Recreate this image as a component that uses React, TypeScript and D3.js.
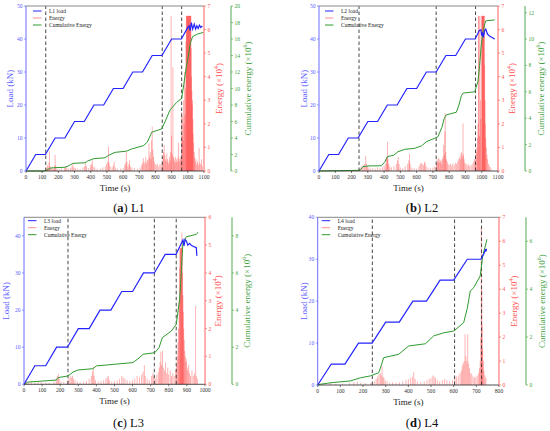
import React from "react";
import * as d3 from "d3";

type P = [number, number];

// ---------- DATA ----------
const timeTicksL1 = [0, 100, 200, 300, 400, 500, 600, 700, 800, 900, 1000, 1100];
const timeTicksL3 = [0, 100, 200, 300, 400, 500, 600, 700, 800, 900, 1000];
const timeTicksL4 = [0, 100, 200, 300, 400, 500, 600, 700, 800];
const loadTicks50 = [0, 10, 20, 30, 40, 50];
const loadTicks40 = [0, 10, 20, 30, 40];
const energyTicks7 = [0, 1, 2, 3, 4, 5, 6, 7];
const energyTicks6 = [0, 1, 2, 3, 4, 5, 6];
const cumTicksL1 = [0, 2, 4, 6, 8, 10, 12, 14, 16, 18, 20];
const cumTicksL2 = [0, 2, 4, 6, 8, 10, 12];
const cumTicksL3 = [0, 2, 4, 6, 8];
const cumTicksL4 = [0, 2, 4, 6];

const L1_phases = [122, 842, 962];
const L2_phases = [246, 720, 962];
const L3_phases = [243, 720, 841];
const L4_phases = [241, 604, 723];

const L1_load: P[] = [[0,0],[60,5],[120,5],[180,10],[240,10],[300,15],[360,15],[420,20],[480,20],[540,25],[600,25],[660,30],[720,30],[780,35],[840,35],[900,40],[960,40],[1000,43.5],[1008,44],[1014,42.5],[1022,45],[1030,43],[1040,44.5],[1048,43],[1056,44],[1064,43.2],[1072,44.2],[1080,43.5],[1090,44]];
const L2_load: P[] = [[0,0],[60,5],[120,5],[180,10],[240,10],[300,15],[360,15],[420,20],[480,20],[540,25],[600,25],[660,30],[720,30],[780,35],[840,35],[900,40],[960,40],[985,42.6],[995,42.8],[1000,41],[1005,42],[1010,40.5],[1018,42.5],[1025,43],[1035,41.5],[1050,40.8],[1080,40]];
const L3_load: P[] = [[0,0],[60,5],[120,5],[180,10],[240,10],[300,15],[360,15],[420,20],[480,20],[540,25],[600,25],[660,30],[720,30],[780,35],[840,35],[878,38.9],[884,37.3],[890,39],[897,38.6],[905,37.5],[915,38],[925,37.4],[952,36.8],[955,34.6]];
const L4_load: P[] = [[0,0],[60,5],[120,5],[180,10],[240,10],[300,15],[360,15],[420,20],[480,20],[540,25],[600,25],[660,30],[720,30],[725,30.5],[730,31],[735,31.5],[740,32.4],[742,31.8],[745,32.5]];

const L1_cum: P[] = [[0,0],[110,0],[130,0.1],[150,0.35],[170,0.4],[240,0.45],[260,0.6],[290,0.93],[365,1.0],[380,1.2],[420,1.5],[488,1.6],[510,1.9],[550,2.26],[620,2.4],[653,2.67],[725,3.07],[750,3.5],[777,4.7],[838,5.1],[860,6.0],[890,7.4],[930,8.3],[962,8.8],[975,10.5],[990,12.5],[1003,13.9],[1015,15.5],[1030,16.3],[1060,16.6],[1096,16.8]];
const L2_cum: P[] = [[0,0],[240,0.05],[255,0.1],[270,0.33],[300,0.38],[383,0.4],[405,0.7],[420,1.09],[460,1.2],[485,1.46],[527,1.64],[588,1.72],[630,1.9],[660,2.22],[711,2.48],[731,2.6],[755,3.3],[770,4.0],[782,4.25],[844,4.45],[860,5.0],[875,5.7],[885,5.9],[957,6.0],[977,6.8],[987,8.0],[997,9.55],[1010,10.7],[1024,11.37],[1080,11.45]];
const L3_cum: P[] = [[0,0],[22,0.12],[179,0.23],[188,0.36],[243,0.45],[271,0.66],[298,0.77],[380,0.84],[400,0.99],[602,1.17],[640,1.45],[657,1.62],[722,1.7],[746,1.97],[764,2.51],[814,2.87],[841,3.23],[860,4.58],[870,6.2],[878,7.63],[897,7.95],[952,8.08],[961,8.2]];
const L4_cum: P[] = [[0,0],[11,0.03],[63,0.1],[144,0.17],[188,0.3],[232,0.38],[269,0.51],[280,0.8],[291,1.14],[357,1.28],[402,1.63],[475,1.72],[512,2.05],[556,2.18],[600,2.25],[644,2.6],[660,3.2],[673,3.92],[688,4.06],[717,4.55],[728,5.38],[747,6.08]];

const L1_energy: P[] = [[128,0.12],[132,0.25],[137,0.15],[142,0.35],[145,0.82],[150,0.2],[155,0.1],[162,0.15],[170,0.1],[176,0.2],[180,0.68],[184,0.25],[192,0.1],[205,0.08],[220,0.1],[238,0.12],[245,0.2],[252,0.15],[262,0.1],[275,0.12],[284,0.2],[290,0.3],[296,0.15],[305,0.12],[318,0.1],[335,0.08],[352,0.15],[362,0.2],[368,0.33],[374,0.2],[385,0.12],[398,0.25],[405,0.3],[410,0.45],[415,0.2],[425,0.15],[440,0.1],[460,0.1],[475,0.15],[490,0.2],[498,0.3],[505,0.4],[510,1.03],[514,0.35],[520,0.2],[532,0.15],[540,0.25],[545,0.4],[552,0.15],[565,0.1],[585,0.1],[600,0.12],[610,0.25],[616,0.35],[620,0.82],[624,0.4],[630,0.2],[636,0.3],[640,0.45],[646,0.2],[655,0.15],[670,0.12],[690,0.1],[705,0.15],[715,0.25],[720,0.35],[725,0.55],[730,0.4],[735,0.3],[740,0.6],[745,0.35],[750,0.45],[755,0.5],[760,1.17],[764,0.6],[768,0.8],[772,0.5],[776,1.3],[780,1.88],[784,0.9],[788,0.6],[793,0.4],[798,0.3],[805,0.25],[812,0.3],[820,0.2],[828,0.3],[836,0.25],[842,0.4],[846,0.6],[850,0.8],[854,1.1],[858,0.7],[862,0.5],[866,0.4],[870,0.75],[874,0.5],[878,0.4],[882,0.3],[886,0.6],[890,0.45],[894,0.8],[897,6.58],[900,1.5],[904,0.7],[908,4.4],[911,0.6],[915,0.5],[919,0.4],[923,0.6],[927,0.35],[931,0.5],[935,0.4],[939,0.6],[943,1.2],[947,0.5],[951,0.4],[955,0.6],[959,0.5],[962,2.5],[965,1.5],[968,2.3],[971,1.3],[974,3.0],[977,2.0],[980,4.2],[983,2.4],[986,3.5],[989,5.5],[991,6.58],[993,6.58],[995,6.58],[997,6.58],[999,6.58],[1001,6.58],[1003,6.58],[1005,6.58],[1007,6.58],[1009,6.58],[1011,6.58],[1013,6.58],[1015,6.58],[1017,6.58],[1019,6.58],[1021,5.2],[1023,4.0],[1025,3.4],[1027,2.8],[1029,3.0],[1031,2.2],[1033,1.6],[1036,1.2],[1039,0.8],[1042,0.6],[1046,0.4],[1050,0.5],[1055,0.3],[1060,0.4],[1065,0.25],[1070,0.97],[1074,0.35],[1080,0.3],[1085,0.5],[1090,0.2]];
const L2_energy: P[] = [[242,0.05],[250,0.1],[258,0.15],[265,0.2],[272,0.25],[280,0.3],[287,0.65],[292,0.3],[298,0.2],[306,0.15],[315,0.1],[330,0.12],[345,0.1],[360,0.15],[375,0.12],[390,0.15],[400,0.2],[408,0.3],[414,0.5],[418,0.6],[421,1.24],[424,0.5],[428,0.3],[435,0.2],[445,0.15],[460,0.2],[475,0.3],[482,0.45],[487,0.6],[492,0.3],[500,0.15],[515,0.12],[530,0.2],[545,0.3],[552,0.45],[556,0.72],[560,0.3],[570,0.15],[585,0.12],[600,0.1],[615,0.2],[622,0.3],[628,0.35],[634,0.3],[642,0.25],[648,0.35],[652,0.4],[658,0.2],[670,0.15],[685,0.12],[700,0.15],[712,0.2],[722,0.3],[726,0.5],[730,0.4],[734,0.55],[738,0.35],[742,0.5],[746,0.4],[750,0.45],[754,0.3],[758,0.5],[762,0.6],[766,1.1],[770,0.7],[773,1.67],[776,2.45],[779,0.8],[783,0.5],[788,0.4],[793,0.3],[800,0.25],[808,0.3],[815,0.2],[822,0.3],[830,0.25],[838,0.35],[845,0.3],[852,0.4],[858,0.5],[864,0.6],[869,0.5],[873,0.75],[877,0.8],[881,0.6],[885,2.02],[888,0.7],[892,0.5],[897,0.35],[903,0.3],[910,0.25],[918,0.3],[926,0.2],[934,0.25],[942,0.3],[950,0.4],[956,0.5],[962,0.6],[966,0.8],[970,1.0],[974,1.4],[977,2.0],[980,6.58],[983,6.58],[986,1.5],[989,6.58],[992,3.0],[995,2.2],[1000,6.58],[1002,6.58],[1004,6.58],[1006,6.58],[1008,6.58],[1010,6.58],[1012,6.58],[1014,6.58],[1016,6.58],[1018,4.5],[1020,3.0],[1022,2.0],[1025,1.4],[1028,1.0],[1032,0.7],[1036,0.5],[1042,0.3],[1048,0.2],[1056,0.15]];
const L3_energy: P[] = [[5,0.08],[15,0.12],[25,0.05],[40,0.08],[60,0.06],[78,0.12],[95,0.08],[120,0.06],[140,0.05],[165,0.1],[178,0.2],[184,0.3],[190,0.38],[195,0.2],[205,0.1],[220,0.08],[240,0.12],[248,0.2],[255,0.3],[262,0.25],[268,0.3],[274,0.2],[282,0.15],[295,0.1],[310,0.08],[330,0.1],[345,0.12],[360,0.2],[372,0.3],[378,0.45],[383,0.63],[388,0.3],[395,0.15],[410,0.1],[425,0.12],[440,0.15],[452,0.2],[460,0.25],[466,0.3],[472,0.15],[485,0.1],[500,0.12],[515,0.15],[528,0.2],[540,0.3],[548,0.25],[558,0.2],[570,0.15],[585,0.12],[600,0.15],[612,0.2],[625,0.3],[638,0.25],[650,0.35],[658,0.45],[665,0.69],[670,0.3],[680,0.2],[692,0.15],[705,0.3],[712,0.4],[718,0.3],[726,0.2],[734,0.35],[742,0.45],[748,0.6],[752,0.8],[756,1.17],[760,0.7],[765,1.2],[770,0.6],[776,0.5],[782,0.78],[788,0.4],[794,0.6],[800,0.35],[808,0.5],[815,0.3],[822,0.4],[830,0.3],[838,0.5],[843,0.7],[847,1.0],[851,1.5],[854,2.0],[857,3.0],[860,4.2],[862,4.89],[864,4.89],[866,4.89],[868,4.89],[870,4.89],[872,5.45],[874,4.89],[876,4.0],[878,3.2],[880,2.6],[882,2.0],[885,1.6],[888,1.2],[891,1.0],[894,0.8],[898,0.9],[902,0.6],[906,0.5],[910,0.7],[915,0.4],[920,0.3],[928,0.5],[935,0.3],[942,0.4],[948,2.81],[952,0.3],[958,0.2]];
const L4_energy: P[] = [[10,0.05],[30,0.06],[55,0.08],[80,0.05],[110,0.06],[140,0.1],[160,0.12],[175,0.15],[190,0.1],[210,0.08],[235,0.1],[250,0.15],[258,0.25],[264,0.35],[270,0.45],[276,0.5],[280,0.4],[284,0.79],[288,0.35],[292,0.3],[298,0.2],[306,0.15],[318,0.1],[330,0.12],[345,0.1],[360,0.12],[375,0.15],[390,0.2],[400,0.25],[410,0.3],[418,0.35],[424,0.54],[430,0.25],[440,0.15],[455,0.12],[470,0.15],[482,0.2],[492,0.25],[500,0.3],[508,0.4],[514,0.35],[520,0.3],[528,0.2],[538,0.15],[550,0.2],[560,0.25],[570,0.2],[582,0.15],[595,0.2],[605,0.3],[612,0.35],[620,0.4],[628,0.5],[634,0.6],[638,0.8],[642,0.9],[646,1.0],[650,2.12],[654,1.2],[658,1.0],[662,2.12],[666,0.9],[670,0.7],[675,0.5],[680,0.45],[686,0.35],[692,0.3],[698,0.35],[704,0.4],[710,0.5],[714,0.7],[717,1.0],[720,2.0],[722,6.56],[724,4.0],[726,2.5],[728,1.5],[731,1.0],[734,0.6],[738,0.4],[742,0.3]];

// ---------- STYLE ----------
const SERIF = "'Liberation Serif', 'DejaVu Serif', serif";
const BLUE = "#2323ff";
const BLUE_T = "#5c5cff";
const RED = "#ff1a1a";
const RED_T = "#ff5050";
const GREEN = "#2f9a2f";
const GREEN_T = "#3f9f3f";

interface PanelProps {
  x0: number; x1: number; yTop: number; yBot: number; cAxisX: number;
  tMax: number; loadMax: number; eMax: number; cMax: number;
  timeTicks: number[]; loadTicks: number[]; eTicks: number[]; cTicks: number[];
  load: P[]; cum: P[]; energy: P[]; phases: number[];
  name: string; letter: string;
  loadTitleX: number; eTitleX: number; cTitleX: number;
  legX: number; legY: number; capX: number; capY: number;
}

function Panel(p: PanelProps) {
  const x = d3.scaleLinear().domain([0, p.tMax]).range([p.x0, p.x1]);
  const yL = d3.scaleLinear().domain([0, p.loadMax]).range([p.yBot, p.yTop]);
  const yE = d3.scaleLinear().domain([0, p.eMax]).range([p.yBot, p.yTop]);
  const yC = d3.scaleLinear().domain([0, p.cMax]).range([p.yBot, p.yTop]);
  const loadLine = d3.line<P>().x(d => x(d[0])).y(d => yL(d[1]));
  const cumLine = d3.line<P>().x(d => x(d[0])).y(d => yC(d[1]));
  const midY = (p.yTop + p.yBot) / 2;
  const tf = 5.6;
  return (
    <g fontFamily={SERIF}>
      {/* energy spikes */}
      <g stroke={RED} strokeWidth={0.6} strokeOpacity={0.55}>
        {p.energy.map((d, i) => (
          <line key={i} x1={x(d[0])} x2={x(d[0])} y1={yE(0)} y2={yE(d[1])} />
        ))}
      </g>
      {/* phase dashed lines */}
      {p.phases.map((t, i) => (
        <line key={i} x1={x(t)} x2={x(t)} y1={p.yBot} y2={p.yTop} stroke="#333" strokeWidth={0.9} strokeDasharray="3.5,2.5" />
      ))}
      <path d={cumLine(p.cum) || ""} fill="none" stroke={GREEN} strokeWidth={1} />
      <path d={loadLine(p.load) || ""} fill="none" stroke={BLUE} strokeWidth={1.2} />
      {/* top border */}
      <line x1={p.x0} x2={p.x1} y1={p.yTop} y2={p.yTop} stroke="#888" strokeWidth={1} />
      {/* bottom axis */}
      <line x1={p.x0} x2={p.x1} y1={p.yBot} y2={p.yBot} stroke="#222" strokeWidth={0.8} />
      {p.timeTicks.map(t => (
        <g key={t}>
          <line x1={x(t)} x2={x(t)} y1={p.yBot} y2={p.yBot + 2} stroke="#222" strokeWidth={0.6} />
          <text x={x(t)} y={p.yBot + 7.5} fontSize={tf} textAnchor="middle" fill="#333">{t}</text>
        </g>
      ))}
      <text x={(p.x0 + p.x1) / 2} y={p.yBot + 19.5} fontSize={9} textAnchor="middle" fill="#222">Time (s)</text>
      {/* left load axis */}
      <line x1={p.x0} x2={p.x0} y1={p.yBot} y2={p.yTop} stroke={BLUE_T} strokeWidth={0.9} />
      {p.loadTicks.map(v => (
        <g key={v}>
          <line x1={p.x0 - 2} x2={p.x0} y1={yL(v)} y2={yL(v)} stroke={BLUE_T} strokeWidth={0.6} />
          <text x={p.x0 - 3.5} y={yL(v) + 2} fontSize={tf} textAnchor="end" fill={BLUE_T}>{v}</text>
        </g>
      ))}
      <text transform={`translate(${p.loadTitleX},${midY}) rotate(-90)`} fontSize={9} textAnchor="middle" dominantBaseline="central" fill={BLUE_T}>Load (kN)</text>
      {/* energy axis */}
      <line x1={p.x1} x2={p.x1} y1={p.yBot} y2={p.yTop} stroke={RED_T} strokeWidth={0.9} />
      {p.eTicks.map(v => (
        <g key={v}>
          <line x1={p.x1} x2={p.x1 + 2} y1={yE(v)} y2={yE(v)} stroke={RED_T} strokeWidth={0.6} />
          <text x={p.x1 + 3.5} y={yE(v) + 2} fontSize={tf} textAnchor="start" fill={RED_T}>{v}</text>
        </g>
      ))}
      <text transform={`translate(${p.eTitleX},${midY}) rotate(-90)`} fontSize={9} textAnchor="middle" dominantBaseline="central" fill={RED_T}>
        Energy (×10<tspan dy={-3} fontSize={6}>4</tspan><tspan dy={3}>)</tspan>
      </text>
      {/* cumulative axis */}
      <line x1={p.cAxisX} x2={p.cAxisX} y1={p.yBot} y2={p.yTop} stroke={GREEN_T} strokeWidth={0.9} />
      {p.cTicks.map(v => (
        <g key={v}>
          <line x1={p.cAxisX} x2={p.cAxisX + 2} y1={yC(v)} y2={yC(v)} stroke={GREEN_T} strokeWidth={0.6} />
          <text x={p.cAxisX + 3.5} y={yC(v) + 2} fontSize={tf} textAnchor="start" fill={GREEN_T}>{v}</text>
        </g>
      ))}
      <text transform={`translate(${p.cTitleX},${midY}) rotate(-90)`} fontSize={9} textAnchor="middle" dominantBaseline="central" fill={GREEN_T}>
        Cumulative energy (×10<tspan dy={-3} fontSize={6}>6</tspan><tspan dy={3}>)</tspan>
      </text>
      {/* legend */}
      <g fontSize={5.5} fill="#222">
        <line x1={p.legX} x2={p.legX + 8.5} y1={p.legY} y2={p.legY} stroke={BLUE} strokeWidth={1} />
        <text x={p.legX + 16} y={p.legY + 1.8}>{p.name} load</text>
        <line x1={p.legX} x2={p.legX + 8.5} y1={p.legY + 7} y2={p.legY + 7} stroke="#ff9090" strokeWidth={1} />
        <text x={p.legX + 16} y={p.legY + 8.8}>Energy</text>
        <line x1={p.legX} x2={p.legX + 8.5} y1={p.legY + 14} y2={p.legY + 14} stroke={GREEN} strokeWidth={1} />
        <text x={p.legX + 16} y={p.legY + 15.8}>Cumulative Energy</text>
      </g>
      {/* caption */}
      <text x={p.capX} y={p.capY} fontSize={12.5} textAnchor="middle" fill="#111">
        (<tspan fontWeight="bold">{p.letter}</tspan>) {p.name}
      </text>
    </g>
  );
}

export default function App() {
  return (
    <svg width={550} height={431} style={{ position: "absolute", left: 0, top: 0, background: "#fff" }}>
      <rect width={550} height={431} fill="#fff" />
      <Panel x0={26} x1={204} yTop={6} yBot={171} cAxisX={231} tMax={1100} loadMax={50} eMax={7} cMax={20}
        timeTicks={timeTicksL1} loadTicks={loadTicks50} eTicks={energyTicks7} cTicks={cumTicksL1}
        load={L1_load} cum={L1_cum} energy={L1_energy} phases={L1_phases} name="L1" letter="a"
        loadTitleX={10} eTitleX={219} cTitleX={248} legX={33} legY={11} capX={129} capY={212} />
      <Panel x0={319} x1={498} yTop={6} yBot={171} cAxisX={525} tMax={1100} loadMax={50} eMax={7} cMax={12.5}
        timeTicks={timeTicksL1} loadTicks={loadTicks50} eTicks={energyTicks7} cTicks={cumTicksL2}
        load={L2_load} cum={L2_cum} energy={L2_energy} phases={L2_phases} name="L2" letter="b"
        loadTitleX={304} eTitleX={512} cTitleX={541} legX={325} legY={11} capX={422} capY={212} />
      <Panel x0={24} x1={205} yTop={217.3} yBot={384.3} cAxisX={232} tMax={1000} loadMax={45} eMax={6} cMax={9}
        timeTicks={timeTicksL3} loadTicks={loadTicks40} eTicks={energyTicks6} cTicks={cumTicksL3}
        load={L3_load} cum={L3_cum} energy={L3_energy} phases={L3_phases} name="L3" letter="c"
        loadTitleX={6} eTitleX={218} cTitleX={247} legX={28} legY={220.7} capX={128.5} capY={427} />
      <Panel x0={317.7} x1={499} yTop={217.3} yBot={385} cAxisX={526} tMax={800} loadMax={40} eMax={7} cMax={7}
        timeTicks={timeTicksL4} loadTicks={loadTicks40} eTicks={energyTicks7} cTicks={cumTicksL4}
        load={L4_load} cum={L4_cum} energy={L4_energy} phases={L4_phases} name="L4" letter="d"
        loadTitleX={304} eTitleX={514} cTitleX={542} legX={321.7} legY={220.7} capX={422} capY={427} />
    </svg>
  );
}
